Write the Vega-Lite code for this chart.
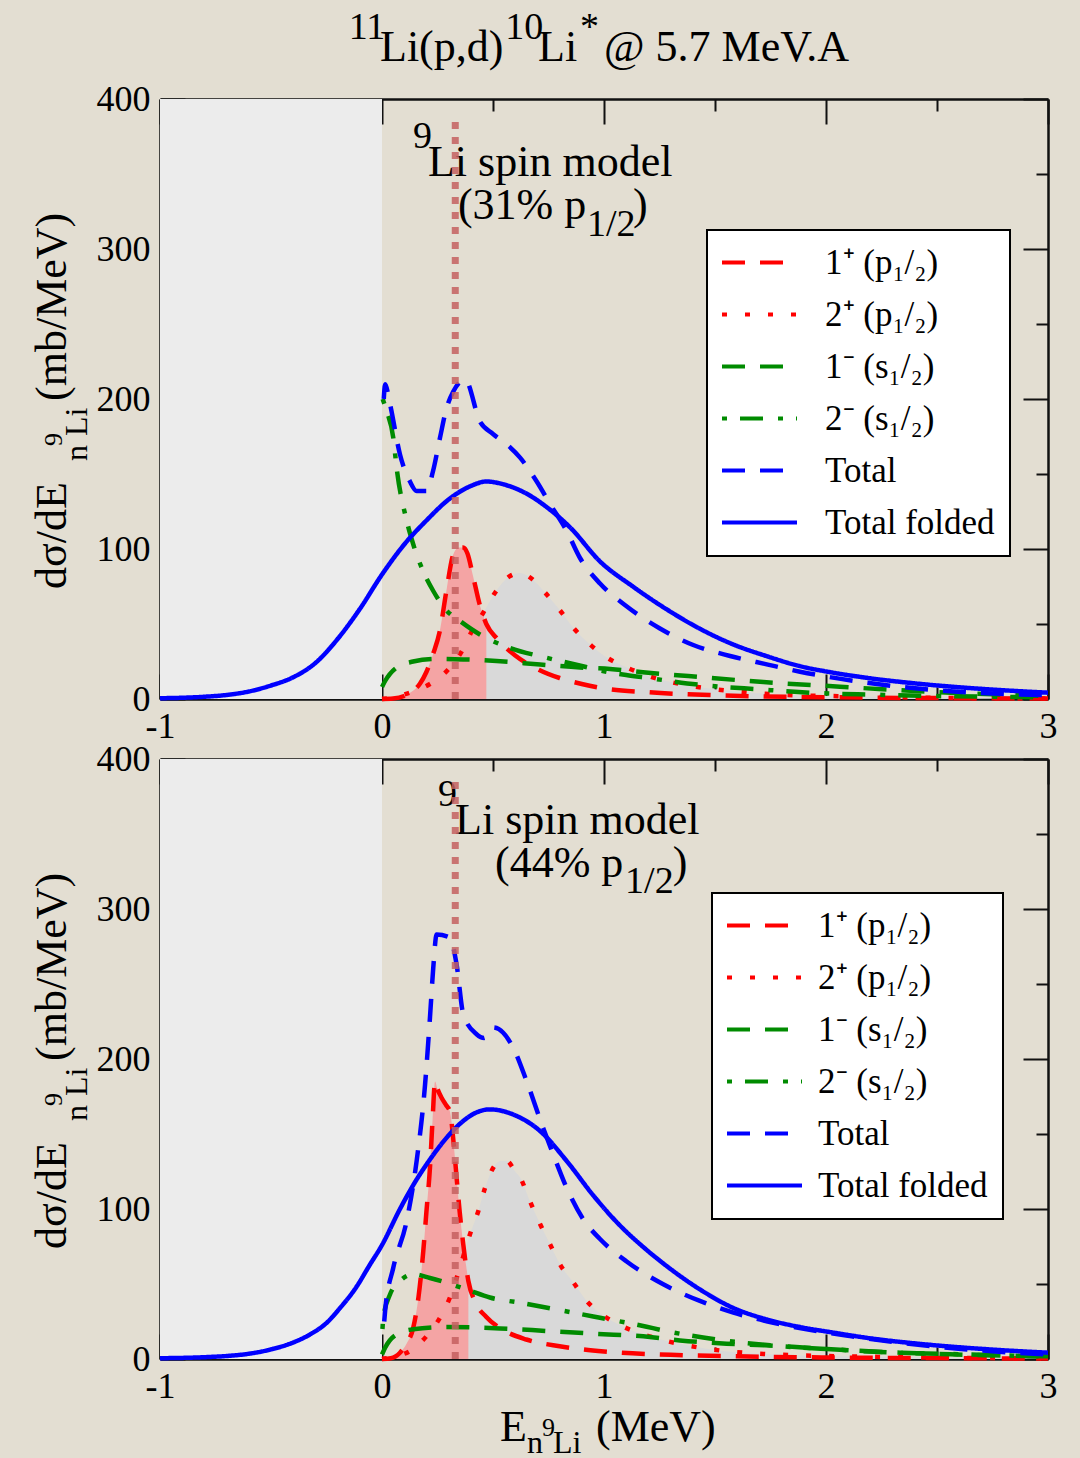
{
"$schema":"https://vega.github.io/schema/vega-lite/v6.json",
"background":"#e3ded2",
"padding":{"left":31,"top":8,"right":30,"bottom":12},
"config":{
 "view":{"stroke":null},
 "axis":{"domain":false,"grid":false,"tickColor":"#111","tickWidth":2,"labelFont":"Liberation Serif","labelFontSize":36,"labelColor":"#000","zindex":1,"domainColor":"#111","domainWidth":2.5},
 "legend":{"strokeWidth":2}
},
"datasets":{
 "shade":[{"x":-1,"x2":0}],
 "mark":[{"x":0.33}],
 "top":[
{"s":"a","x":0,"y":0},{"s":"a","x":0.05,"y":0.3},{"s":"a","x":0.1,"y":2},{"s":"a","x":0.13,"y":4.5},{"s":"a","x":0.17,"y":10},{"s":"a","x":0.2,"y":18},{"s":"a","x":0.23,"y":30},{"s":"a","x":0.26,"y":45},{"s":"a","x":0.29,"y":72},{"s":"a","x":0.32,"y":96},{"s":"a","x":0.345,"y":101},{"s":"a","x":0.365,"y":101},{"s":"a","x":0.385,"y":97},{"s":"a","x":0.41,"y":82},{"s":"a","x":0.44,"y":63},{"s":"a","x":0.47,"y":50},{"s":"a","x":0.52,"y":40},{"s":"a","x":0.6,"y":29},{"s":"a","x":0.7,"y":20},{"s":"a","x":0.8,"y":14},{"s":"a","x":0.9,"y":10},{"s":"a","x":1.0,"y":7},{"s":"a","x":1.2,"y":4.5},{"s":"a","x":1.5,"y":2.5},{"s":"a","x":2.0,"y":1.2},{"s":"a","x":2.5,"y":0.6},{"s":"a","x":3.0,"y":0.3},
{"s":"b","x":0,"y":0},{"s":"b","x":0.05,"y":1},{"s":"b","x":0.1,"y":3},{"s":"b","x":0.15,"y":5.5},{"s":"b","x":0.216,"y":10},{"s":"b","x":0.3,"y":20},{"s":"b","x":0.36,"y":32},{"s":"b","x":0.404,"y":45},{"s":"b","x":0.456,"y":57.5},{"s":"b","x":0.51,"y":71},{"s":"b","x":0.577,"y":82},{"s":"b","x":0.622,"y":84},{"s":"b","x":0.667,"y":81},{"s":"b","x":0.734,"y":71},{"s":"b","x":0.802,"y":59},{"s":"b","x":0.862,"y":47.5},{"s":"b","x":0.937,"y":36.4},{"s":"b","x":1.02,"y":27},{"s":"b","x":1.11,"y":20.5},{"s":"b","x":1.207,"y":15},{"s":"b","x":1.31,"y":11},{"s":"b","x":1.507,"y":6.4},{"s":"b","x":1.61,"y":4.9},{"s":"b","x":1.815,"y":2.7},{"s":"b","x":2.02,"y":2},{"s":"b","x":2.5,"y":0.8},{"s":"b","x":3.0,"y":0.3},
{"s":"c","x":0,"y":8},{"s":"c","x":0.014,"y":12},{"s":"c","x":0.066,"y":21},{"s":"c","x":0.14,"y":25},{"s":"c","x":0.23,"y":26.7},{"s":"c","x":0.366,"y":26.4},{"s":"c","x":0.516,"y":25.3},{"s":"c","x":0.712,"y":23},{"s":"c","x":0.892,"y":21},{"s":"c","x":1.027,"y":20},{"s":"c","x":1.2,"y":17.5},{"s":"c","x":1.38,"y":15.3},{"s":"c","x":1.718,"y":11.3},{"s":"c","x":2.063,"y":8.2},{"s":"c","x":2.4,"y":5.3},{"s":"c","x":2.754,"y":3.1},{"s":"c","x":3.0,"y":2},
{"s":"d","x":0.003,"y":200},{"s":"d","x":0.021,"y":192},{"s":"d","x":0.051,"y":174},{"s":"d","x":0.066,"y":154},{"s":"d","x":0.111,"y":119},{"s":"d","x":0.141,"y":103},{"s":"d","x":0.186,"y":85},{"s":"d","x":0.231,"y":72},{"s":"d","x":0.291,"y":59},{"s":"d","x":0.351,"y":52},{"s":"d","x":0.441,"y":43},{"s":"d","x":0.577,"y":34},{"s":"d","x":0.741,"y":27.5},{"s":"d","x":0.9,"y":22},{"s":"d","x":1.0,"y":18.5},{"s":"d","x":1.1,"y":16},{"s":"d","x":1.2,"y":14},{"s":"d","x":1.44,"y":9.3},{"s":"d","x":1.703,"y":6.4},{"s":"d","x":1.928,"y":4.2},{"s":"d","x":2.213,"y":2.9},{"s":"d","x":2.48,"y":2},{"s":"d","x":2.83,"y":1.4},{"s":"d","x":3.0,"y":1},
{"s":"t","x":0.008,"y":200},{"s":"t","x":0.014,"y":209.8},{"s":"t","x":0.036,"y":196.7},{"s":"t","x":0.081,"y":163},{"s":"t","x":0.126,"y":145},{"s":"t","x":0.156,"y":138.7},{"s":"t","x":0.2,"y":138.7},{"s":"t","x":0.23,"y":152},{"s":"t","x":0.261,"y":174},{"s":"t","x":0.291,"y":194},{"s":"t","x":0.321,"y":205},{"s":"t","x":0.374,"y":213},{"s":"t","x":0.441,"y":185},{"s":"t","x":0.5,"y":176.7},{"s":"t","x":0.562,"y":169.8},{"s":"t","x":0.622,"y":160.9},{"s":"t","x":0.697,"y":145},{"s":"t","x":0.757,"y":130},{"s":"t","x":0.832,"y":112},{"s":"t","x":0.892,"y":94},{"s":"t","x":0.982,"y":77},{"s":"t","x":1.1,"y":62},{"s":"t","x":1.252,"y":47},{"s":"t","x":1.402,"y":36},{"s":"t","x":1.568,"y":28.7},{"s":"t","x":1.733,"y":23.1},{"s":"t","x":1.883,"y":18.2},{"s":"t","x":2.183,"y":10.9},{"s":"t","x":2.483,"y":6},{"s":"t","x":2.784,"y":3.5},{"s":"t","x":3.0,"y":2.5},
{"s":"f","x":-1,"y":0.5},{"s":"f","x":-0.8,"y":1.5},{"s":"f","x":-0.7,"y":2.7},{"s":"f","x":-0.6,"y":5},{"s":"f","x":-0.5,"y":9},{"s":"f","x":-0.4,"y":14.5},{"s":"f","x":-0.3,"y":24},{"s":"f","x":-0.2,"y":40},{"s":"f","x":-0.1,"y":60},{"s":"f","x":0,"y":83},{"s":"f","x":0.1,"y":103},{"s":"f","x":0.2,"y":119},{"s":"f","x":0.3,"y":133},{"s":"f","x":0.4,"y":142},{"s":"f","x":0.47,"y":145},{"s":"f","x":0.55,"y":143},{"s":"f","x":0.65,"y":137},{"s":"f","x":0.75,"y":127},{"s":"f","x":0.85,"y":114},{"s":"f","x":0.98,"y":92},{"s":"f","x":1.13,"y":75},{"s":"f","x":1.28,"y":60},{"s":"f","x":1.43,"y":47},{"s":"f","x":1.58,"y":36.5},{"s":"f","x":1.73,"y":28.7},{"s":"f","x":1.88,"y":22},{"s":"f","x":2.03,"y":17.6},{"s":"f","x":2.18,"y":14.2},{"s":"f","x":2.48,"y":9.3},{"s":"f","x":2.78,"y":6},{"s":"f","x":3.0,"y":4.2}
 ],
 "bot":[
{"s":"a","x":0,"y":0},{"s":"a","x":0.04,"y":0.5},{"s":"a","x":0.081,"y":4.2},{"s":"a","x":0.11,"y":10},{"s":"a","x":0.141,"y":21},{"s":"a","x":0.165,"y":42},{"s":"a","x":0.186,"y":72},{"s":"a","x":0.2,"y":98},{"s":"a","x":0.216,"y":127.5},{"s":"a","x":0.228,"y":160},{"s":"a","x":0.239,"y":185},{"s":"a","x":0.25,"y":180},{"s":"a","x":0.269,"y":174},{"s":"a","x":0.29,"y":169},{"s":"a","x":0.306,"y":165},{"s":"a","x":0.322,"y":145},{"s":"a","x":0.336,"y":121},{"s":"a","x":0.35,"y":98},{"s":"a","x":0.366,"y":76.5},{"s":"a","x":0.389,"y":52},{"s":"a","x":0.42,"y":38},{"s":"a","x":0.47,"y":28},{"s":"a","x":0.55,"y":19},{"s":"a","x":0.65,"y":13},{"s":"a","x":0.8,"y":8.5},{"s":"a","x":1.0,"y":5},{"s":"a","x":1.3,"y":2.8},{"s":"a","x":1.6,"y":1.8},{"s":"a","x":2.0,"y":1},{"s":"a","x":2.5,"y":0.6},{"s":"a","x":3.0,"y":0.3},
{"s":"b","x":0,"y":0},{"s":"b","x":0.05,"y":1.5},{"s":"b","x":0.126,"y":5.3},{"s":"b","x":0.201,"y":15.3},{"s":"b","x":0.261,"y":27.5},{"s":"b","x":0.306,"y":41},{"s":"b","x":0.351,"y":61},{"s":"b","x":0.396,"y":83},{"s":"b","x":0.434,"y":98.7},{"s":"b","x":0.464,"y":114},{"s":"b","x":0.501,"y":127.5},{"s":"b","x":0.535,"y":132},{"s":"b","x":0.562,"y":132},{"s":"b","x":0.6,"y":125},{"s":"b","x":0.622,"y":121},{"s":"b","x":0.667,"y":105},{"s":"b","x":0.712,"y":90},{"s":"b","x":0.757,"y":76.5},{"s":"b","x":0.802,"y":63},{"s":"b","x":0.862,"y":51},{"s":"b","x":0.922,"y":38.7},{"s":"b","x":0.997,"y":29},{"s":"b","x":1.087,"y":21.5},{"s":"b","x":1.177,"y":16.4},{"s":"b","x":1.282,"y":12},{"s":"b","x":1.485,"y":6.4},{"s":"b","x":1.688,"y":3.6},{"s":"b","x":1.883,"y":2.4},{"s":"b","x":2.2,"y":1.5},{"s":"b","x":2.6,"y":0.8},{"s":"b","x":3.0,"y":0.3},
{"s":"c","x":0,"y":3},{"s":"c","x":0.014,"y":7.5},{"s":"c","x":0.066,"y":16.4},{"s":"c","x":0.141,"y":19.8},{"s":"c","x":0.291,"y":21.3},{"s":"c","x":0.532,"y":20.4},{"s":"c","x":0.741,"y":18.7},{"s":"c","x":0.967,"y":16.8},{"s":"c","x":1.207,"y":14.7},{"s":"c","x":1.342,"y":12.4},{"s":"c","x":1.552,"y":10.2},{"s":"c","x":1.733,"y":9.1},{"s":"c","x":1.913,"y":7.5},{"s":"c","x":2.243,"y":4.7},{"s":"c","x":2.56,"y":3.1},{"s":"c","x":2.92,"y":2},{"s":"c","x":3.0,"y":1.8},
{"s":"d","x":0.002,"y":20},{"s":"d","x":0.006,"y":27.5},{"s":"d","x":0.036,"y":43},{"s":"d","x":0.081,"y":52},{"s":"d","x":0.141,"y":56.5},{"s":"d","x":0.216,"y":54},{"s":"d","x":0.381,"y":46.4},{"s":"d","x":0.486,"y":41},{"s":"d","x":0.622,"y":37.5},{"s":"d","x":0.787,"y":33},{"s":"d","x":0.982,"y":27.5},{"s":"d","x":1.192,"y":21.5},{"s":"d","x":1.252,"y":19.5},{"s":"d","x":1.507,"y":13},{"s":"d","x":1.748,"y":9.1},{"s":"d","x":2.033,"y":6.4},{"s":"d","x":2.333,"y":4.2},{"s":"d","x":2.63,"y":3.1},{"s":"d","x":2.93,"y":2},{"s":"d","x":3.0,"y":1.9},
{"s":"t","x":0.01,"y":25},{"s":"t","x":0.014,"y":32},{"s":"t","x":0.051,"y":61},{"s":"t","x":0.111,"y":92},{"s":"t","x":0.156,"y":132},{"s":"t","x":0.194,"y":183},{"s":"t","x":0.216,"y":227.5},{"s":"t","x":0.231,"y":261},{"s":"t","x":0.246,"y":283},{"s":"t","x":0.306,"y":281},{"s":"t","x":0.336,"y":263},{"s":"t","x":0.366,"y":230},{"s":"t","x":0.426,"y":216.5},{"s":"t","x":0.46,"y":214},{"s":"t","x":0.501,"y":221},{"s":"t","x":0.546,"y":217.5},{"s":"t","x":0.591,"y":207.5},{"s":"t","x":0.652,"y":185},{"s":"t","x":0.726,"y":154},{"s":"t","x":0.771,"y":136.5},{"s":"t","x":0.832,"y":114},{"s":"t","x":0.907,"y":93},{"s":"t","x":0.982,"y":80},{"s":"t","x":1.102,"y":65},{"s":"t","x":1.267,"y":49.8},{"s":"t","x":1.432,"y":38.7},{"s":"t","x":1.583,"y":30.9},{"s":"t","x":1.763,"y":24.2},{"s":"t","x":1.913,"y":19.8},{"s":"t","x":2.108,"y":15.3},{"s":"t","x":2.333,"y":10.9},{"s":"t","x":2.634,"y":6.4},{"s":"t","x":3.0,"y":3},
{"s":"f","x":-1,"y":0.5},{"s":"f","x":-0.8,"y":1.2},{"s":"f","x":-0.7,"y":2},{"s":"f","x":-0.6,"y":3.5},{"s":"f","x":-0.5,"y":6.4},{"s":"f","x":-0.4,"y":11},{"s":"f","x":-0.324,"y":16.4},{"s":"f","x":-0.25,"y":24},{"s":"f","x":-0.189,"y":34},{"s":"f","x":-0.12,"y":47},{"s":"f","x":-0.054,"y":63},{"s":"f","x":0,"y":76},{"s":"f","x":0.081,"y":100},{"s":"f","x":0.141,"y":116},{"s":"f","x":0.216,"y":133},{"s":"f","x":0.291,"y":147.5},{"s":"f","x":0.366,"y":158.7},{"s":"f","x":0.42,"y":164},{"s":"f","x":0.486,"y":166.4},{"s":"f","x":0.591,"y":163},{"s":"f","x":0.712,"y":152},{"s":"f","x":0.832,"y":132},{"s":"f","x":0.952,"y":109},{"s":"f","x":1.072,"y":89},{"s":"f","x":1.182,"y":74},{"s":"f","x":1.282,"y":62},{"s":"f","x":1.432,"y":46.4},{"s":"f","x":1.583,"y":34},{"s":"f","x":1.733,"y":26.4},{"s":"f","x":1.883,"y":21.3},{"s":"f","x":2.033,"y":17.6},{"s":"f","x":2.18,"y":14.2},{"s":"f","x":2.48,"y":9.3},{"s":"f","x":2.78,"y":6},{"s":"f","x":3.0,"y":4.2}
 ],
 "topText":[
{"x":-0.15,"y":440,"t":"11","k":"mid"},{"x":-0.009,"y":425.3,"t":"Li(p,d)","k":"big"},{"x":0.555,"y":440,"t":"10","k":"mid"},{"x":0.703,"y":425.3,"t":"Li","k":"big"},{"x":0.892,"y":440,"t":"*","k":"mid"},{"x":1.0,"y":425.3,"t":"@ 5.7 MeV.A","k":"big"},
{"x":0.14,"y":367.3,"t":"9","k":"mid"},{"x":0.207,"y":348.7,"t":"Li spin model","k":"big"},{"x":0.342,"y":320,"t":"(31% p","k":"big"},{"x":0.923,"y":308.7,"t":"1/2","k":"mid"},{"x":1.131,"y":320,"t":")","k":"big"}
 ],
 "botText":[
{"x":0.252,"y":368.7,"t":"9","k":"mid"},{"x":0.329,"y":350,"t":"Li spin model","k":"big"},{"x":0.509,"y":321.3,"t":"(44% p","k":"big"},{"x":1.095,"y":310.7,"t":"1/2","k":"mid"},{"x":1.31,"y":321.3,"t":")","k":"big"},
{"x":0.532,"y":-54.7,"t":"E","k":"big"},{"x":0.653,"y":-62.7,"t":"n","k":"sub"},{"x":0.721,"y":-51.5,"t":"9","k":"tiny"},{"x":0.77,"y":-62.7,"t":"Li","k":"sub"},{"x":0.964,"y":-54.7,"t":"(MeV)","k":"big"}
 ],
 "yTitle":[
{"x":-1.423,"y":73.3,"t":"dσ/dE","k":"big"},{"x":-1.329,"y":158.7,"t":"n","k":"sub"},{"x":-1.441,"y":168.7,"t":"9","k":"tiny"},{"x":-1.329,"y":175.3,"t":"Li","k":"sub"},{"x":-1.423,"y":198.7,"t":"(mb/MeV)","k":"big"}
 ]
},
"spacing":60,
"bounds":"flush",
"resolve":{"scale":{"color":"independent","strokeDash":"independent"},"legend":{"color":"independent","strokeDash":"independent"}},
"vconcat":[
{
 "width":888,"height":600,
 "resolve":{"axis":{"x":"independent","y":"independent"}},
 "layer":[
  {"data":{"name":"shade"},"mark":{"type":"rect","color":"#ececec"},
   "encoding":{
    "x":{"field":"x","type":"quantitative","scale":{"domain":[-1,3],"nice":false,"zero":false},"axis":{"orient":"bottom","values":[-1,0,1,2,3],"tickSize":-25,"labelPadding":35,"labelExpr":"''+datum.value","labelFlush":false,"labelOverlap":false,"title":null,"domain":true}},
    "x2":{"field":"x2"},
    "y":{"datum":0,"type":"quantitative","scale":{"domain":[0,400],"nice":false,"zero":false},"axis":{"orient":"left","values":[0,100,200,300,400],"tickSize":-25,"labelPadding":35,"labelFlush":false,"labelOverlap":false,"title":null,"domain":true}},
    "y2":{"datum":400}}},
  {"data":{"name":"top"},"transform":[{"filter":"datum.s=='b'"}],"mark":{"type":"area","color":"#d9d9d9","interpolate":"monotone"},
   "encoding":{
    "x":{"field":"x","type":"quantitative","scale":{"domain":[-1,3],"nice":false,"zero":false},"axis":{"orient":"bottom","values":[-0.5,0.5,1.5,2.5],"tickSize":-12,"labels":false,"title":null}},
    "y":{"field":"y","type":"quantitative","scale":{"domain":[0,400],"nice":false,"zero":false},"axis":{"orient":"left","values":[50,150,250,350],"tickSize":-12,"labels":false,"title":null}}}},
  {"data":{"name":"top"},"transform":[{"filter":"datum.s=='a' && datum.x<=0.47"}],"mark":{"type":"area","color":"#f4a4a4","interpolate":"monotone"},
   "encoding":{
    "x":{"field":"x","type":"quantitative","scale":{"domain":[-1,3],"nice":false,"zero":false},"axis":{"orient":"top","values":[-1,0,1,2,3],"tickSize":-25,"labels":false,"title":null,"domain":true}},
    "y":{"field":"y","type":"quantitative","scale":{"domain":[0,400],"nice":false,"zero":false},"axis":{"orient":"right","values":[0,100,200,300,400],"tickSize":-25,"labels":false,"title":null,"domain":true}}}},
  {"data":{"name":"top"},"mark":{"type":"line","strokeWidth":4.5,"interpolate":"monotone"},
   "encoding":{
    "x":{"field":"x","type":"quantitative","scale":{"domain":[-1,3],"nice":false,"zero":false},"axis":null},
    "y":{"field":"y","type":"quantitative","scale":{"domain":[0,400],"nice":false,"zero":false},"axis":null},
    "color":{"field":"s","type":"nominal","scale":{"domain":["a","b","c","d","t","f"],"range":["#ff0000","#ff0000","#008b00","#008b00","#0000ff","#0000ff"]},
      "legend":{"orient":"none","legendX":547,"legendY":131,"title":null,"symbolType":"M-5,0H5","symbolSize":225,"symbolStrokeWidth":4,"symbolOffset":20,"labelOffset":48,"labelFont":"Liberation Serif","labelFontSize":35,"labelColor":"#000","labelLimit":400,"padding":15,"rowPadding":16,"fillColor":"white","strokeColor":"black","labelExpr":"datum.label=='a'?'1⁺ (p₁/₂)':datum.label=='b'?'2⁺ (p₁/₂)':datum.label=='c'?'1⁻ (s₁/₂)':datum.label=='d'?'2⁻ (s₁/₂)':datum.label=='t'?'Total':'Total folded'"}},
    "strokeDash":{"field":"s","type":"nominal","scale":{"domain":["a","b","c","d","t","f"],"range":[[23,15],[5,18],[23,15],[5,13,23,15],[23,15],[1,0]]},
      "legend":{"orient":"none","legendX":547,"legendY":131,"title":null,"symbolType":"M-5,0H5","symbolSize":225,"symbolStrokeWidth":4,"symbolOffset":20,"labelOffset":48,"labelFont":"Liberation Serif","labelFontSize":35,"labelColor":"#000","labelLimit":400,"padding":15,"rowPadding":16,"fillColor":"white","strokeColor":"black","labelExpr":"datum.label=='a'?'1⁺ (p₁/₂)':datum.label=='b'?'2⁺ (p₁/₂)':datum.label=='c'?'1⁻ (s₁/₂)':datum.label=='d'?'2⁻ (s₁/₂)':datum.label=='t'?'Total':'Total folded'"}}}},
  {"data":{"name":"topText"},"mark":{"type":"text","font":"Liberation Serif","align":"left","baseline":"alphabetic","color":"#000"},
   "encoding":{
    "x":{"field":"x","type":"quantitative","scale":{"domain":[-1,3],"nice":false,"zero":false},"axis":null},
    "y":{"field":"y","type":"quantitative","scale":{"domain":[0,400],"nice":false,"zero":false},"axis":null},
    "text":{"field":"t"},
    "size":{"field":"k","type":"ordinal","scale":{"domain":["big","mid","sub","tiny"],"range":[44,26,26,21]},"legend":null}}},
  {"data":{"name":"yTitle"},"mark":{"type":"text","font":"Liberation Serif","align":"left","baseline":"alphabetic","color":"#000","angle":270},
   "encoding":{
    "x":{"field":"x","type":"quantitative","scale":{"domain":[-1,3],"nice":false,"zero":false},"axis":null},
    "y":{"field":"y","type":"quantitative","scale":{"domain":[0,400],"nice":false,"zero":false},"axis":null},
    "text":{"field":"t"},
    "size":{"field":"k","type":"ordinal","scale":{"domain":["big","mid","sub","tiny"],"range":[44,26,26,21]},"legend":null}}},
  {"data":{"name":"mark"},"mark":{"type":"rule","color":"#c46060","strokeWidth":7,"strokeDash":[7,8],"opacity":0.85},
   "encoding":{
    "x":{"field":"x","type":"quantitative","scale":{"domain":[-1,3],"nice":false,"zero":false},"axis":{"orient":"top","values":[-0.5,0.5,1.5,2.5],"tickSize":-12,"labels":false,"title":null}},
    "y":{"datum":0,"type":"quantitative","scale":{"domain":[0,400],"nice":false,"zero":false},"axis":{"orient":"right","values":[50,150,250,350],"tickSize":-12,"labels":false,"title":null}},
    "y2":{"datum":387}}}
 ]
},
{
 "width":888,"height":600,
 "resolve":{"axis":{"x":"independent","y":"independent"}},
 "layer":[
  {"data":{"name":"shade"},"mark":{"type":"rect","color":"#ececec"},
   "encoding":{
    "x":{"field":"x","type":"quantitative","scale":{"domain":[-1,3],"nice":false,"zero":false},"axis":{"orient":"bottom","values":[-1,0,1,2,3],"tickSize":-25,"labelPadding":35,"labelExpr":"''+datum.value","labelFlush":false,"labelOverlap":false,"title":null,"domain":true}},
    "x2":{"field":"x2"},
    "y":{"datum":0,"type":"quantitative","scale":{"domain":[0,400],"nice":false,"zero":false},"axis":{"orient":"left","values":[0,100,200,300,400],"tickSize":-25,"labelPadding":35,"labelFlush":false,"labelOverlap":false,"title":null,"domain":true}},
    "y2":{"datum":400}}},
  {"data":{"name":"bot"},"transform":[{"filter":"datum.s=='b'"}],"mark":{"type":"area","color":"#d9d9d9","interpolate":"monotone"},
   "encoding":{
    "x":{"field":"x","type":"quantitative","scale":{"domain":[-1,3],"nice":false,"zero":false},"axis":{"orient":"bottom","values":[-0.5,0.5,1.5,2.5],"tickSize":-12,"labels":false,"title":null}},
    "y":{"field":"y","type":"quantitative","scale":{"domain":[0,400],"nice":false,"zero":false},"axis":{"orient":"left","values":[50,150,250,350],"tickSize":-12,"labels":false,"title":null}}}},
  {"data":{"name":"bot"},"transform":[{"filter":"datum.s=='a' && datum.x<=0.39"}],"mark":{"type":"area","color":"#f4a4a4","interpolate":"monotone"},
   "encoding":{
    "x":{"field":"x","type":"quantitative","scale":{"domain":[-1,3],"nice":false,"zero":false},"axis":{"orient":"top","values":[-1,0,1,2,3],"tickSize":-25,"labels":false,"title":null,"domain":true}},
    "y":{"field":"y","type":"quantitative","scale":{"domain":[0,400],"nice":false,"zero":false},"axis":{"orient":"right","values":[0,100,200,300,400],"tickSize":-25,"labels":false,"title":null,"domain":true}}}},
  {"data":{"name":"bot"},"mark":{"type":"line","strokeWidth":4.5,"interpolate":"monotone"},
   "encoding":{
    "x":{"field":"x","type":"quantitative","scale":{"domain":[-1,3],"nice":false,"zero":false},"axis":null},
    "y":{"field":"y","type":"quantitative","scale":{"domain":[0,400],"nice":false,"zero":false},"axis":null},
    "color":{"field":"s","type":"nominal","scale":{"domain":["a","b","c","d","t","f"],"range":["#ff0000","#ff0000","#008b00","#008b00","#0000ff","#0000ff"]},
      "legend":{"orient":"none","legendX":552,"legendY":134,"title":null,"symbolType":"M-5,0H5","symbolSize":225,"symbolStrokeWidth":4,"symbolOffset":20,"labelOffset":36,"labelFont":"Liberation Serif","labelFontSize":35,"labelColor":"#000","labelLimit":400,"padding":15,"rowPadding":16,"fillColor":"white","strokeColor":"black","labelExpr":"datum.label=='a'?'1⁺ (p₁/₂)':datum.label=='b'?'2⁺ (p₁/₂)':datum.label=='c'?'1⁻ (s₁/₂)':datum.label=='d'?'2⁻ (s₁/₂)':datum.label=='t'?'Total':'Total folded'"}},
    "strokeDash":{"field":"s","type":"nominal","scale":{"domain":["a","b","c","d","t","f"],"range":[[23,15],[5,18],[23,15],[5,13,23,15],[23,15],[1,0]]},
      "legend":{"orient":"none","legendX":552,"legendY":134,"title":null,"symbolType":"M-5,0H5","symbolSize":225,"symbolStrokeWidth":4,"symbolOffset":20,"labelOffset":36,"labelFont":"Liberation Serif","labelFontSize":35,"labelColor":"#000","labelLimit":400,"padding":15,"rowPadding":16,"fillColor":"white","strokeColor":"black","labelExpr":"datum.label=='a'?'1⁺ (p₁/₂)':datum.label=='b'?'2⁺ (p₁/₂)':datum.label=='c'?'1⁻ (s₁/₂)':datum.label=='d'?'2⁻ (s₁/₂)':datum.label=='t'?'Total':'Total folded'"}}}},
  {"data":{"name":"botText"},"mark":{"type":"text","font":"Liberation Serif","align":"left","baseline":"alphabetic","color":"#000"},
   "encoding":{
    "x":{"field":"x","type":"quantitative","scale":{"domain":[-1,3],"nice":false,"zero":false},"axis":null},
    "y":{"field":"y","type":"quantitative","scale":{"domain":[0,400],"nice":false,"zero":false},"axis":null},
    "text":{"field":"t"},
    "size":{"field":"k","type":"ordinal","scale":{"domain":["big","mid","sub","tiny"],"range":[44,26,26,21]},"legend":null}}},
  {"data":{"name":"yTitle"},"mark":{"type":"text","font":"Liberation Serif","align":"left","baseline":"alphabetic","color":"#000","angle":270},
   "encoding":{
    "x":{"field":"x","type":"quantitative","scale":{"domain":[-1,3],"nice":false,"zero":false},"axis":null},
    "y":{"field":"y","type":"quantitative","scale":{"domain":[0,400],"nice":false,"zero":false},"axis":null},
    "text":{"field":"t"},
    "size":{"field":"k","type":"ordinal","scale":{"domain":["big","mid","sub","tiny"],"range":[44,26,26,21]},"legend":null}}},
  {"data":{"name":"mark"},"mark":{"type":"rule","color":"#c46060","strokeWidth":7,"strokeDash":[7,8],"opacity":0.85},
   "encoding":{
    "x":{"field":"x","type":"quantitative","scale":{"domain":[-1,3],"nice":false,"zero":false},"axis":{"orient":"top","values":[-0.5,0.5,1.5,2.5],"tickSize":-12,"labels":false,"title":null}},
    "y":{"datum":0,"type":"quantitative","scale":{"domain":[0,400],"nice":false,"zero":false},"axis":{"orient":"right","values":[50,150,250,350],"tickSize":-12,"labels":false,"title":null}},
    "y2":{"datum":387}}}
 ]
}
]
}
